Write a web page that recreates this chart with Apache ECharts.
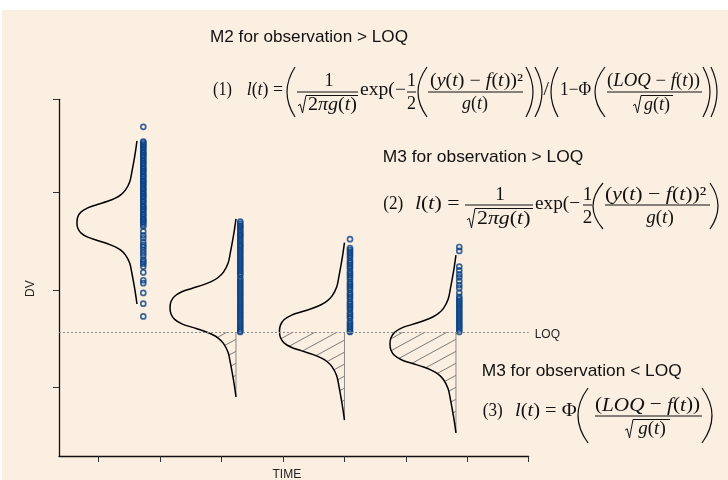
<!DOCTYPE html>
<html><head><meta charset="utf-8">
<script src="https://cdn.jsdelivr.net/npm/echarts@6/dist/echarts.min.js"></script>
<style>html,body{margin:0;padding:0;background:#fff;}#c{width:728px;height:480px;}</style>
</head><body><div id="c"></div>
<script>
// ---------------- data (axis units: TIME ticks and DV ticks) ----------------
const TIME_TICKS = [1, 2, 3, 4, 5, 6, 7, 8];
const DV_TICKS = [1, 2, 3, 3.952];
const X_RANGE = [0.354, 8];
const Y_RANGE = [0.301, 3.952];
const LOQ = 1.567;

// observation times and observed DV values
const OBS_TIMES = [1.726, 3.305, 5.091, 6.870];
const OBS1 = [3.67, 3.52, 3.51, 3.49, 3.48, 3.46, 3.45, 3.43, 3.41, 3.40, 3.38, 3.37, 3.35, 3.33, 3.32, 3.30,
  3.29, 3.27, 3.25, 3.24, 3.22, 3.21, 3.19, 3.17, 3.16, 3.14, 3.12, 3.11, 3.09, 3.08, 3.06, 3.04, 3.03, 3.01,
  2.99, 2.98, 2.96, 2.95, 2.93, 2.91, 2.90, 2.88, 2.86, 2.85, 2.83, 2.82, 2.80, 2.78, 2.77, 2.75, 2.73, 2.72,
  2.70, 2.69, 2.67, 2.65, 2.60, 2.56, 2.53, 2.49, 2.46, 2.44, 2.41, 2.38, 2.35, 2.31, 2.29, 2.27, 2.24,
  2.18, 2.10, 2.07, 1.97, 1.86, 1.73];
const OBS2 = [2.70, 2.68, 2.66, 2.65, 2.63, 2.61, 2.59, 2.57, 2.56, 2.54, 2.52, 2.50, 2.48, 2.46, 2.45, 2.43,
  2.41, 2.39, 2.37, 2.35, 2.33, 2.31, 2.29, 2.27, 2.25, 2.23, 2.21, 2.19, 2.17, 2.15, 2.12, 2.10, 2.08, 2.06,
  2.04, 2.02, 2.00, 1.98, 1.96, 1.94, 1.92, 1.90, 1.88, 1.86, 1.84, 1.82, 1.80, 1.78, 1.76, 1.74, 1.72, 1.70,
  1.68, 1.66, 1.64, 1.62, 1.60, 1.58, 1.57];
const OBS3 = [2.52, 2.43, 2.41, 2.39, 2.37, 2.35, 2.33, 2.30, 2.28, 2.26, 2.24, 2.22, 2.19, 2.17, 2.15, 2.13,
  2.11, 2.08, 2.06, 2.04, 2.02, 2.00, 1.97, 1.95, 1.93, 1.91, 1.88, 1.86, 1.84, 1.82, 1.80, 1.77, 1.75, 1.73,
  1.71, 1.68, 1.66, 1.64, 1.62, 1.60, 1.58, 1.57];
const OBS4 = [2.44, 2.40, 2.24, 2.20, 2.16, 2.13, 2.09, 2.05, 2.02, 1.97, 1.93, 1.91, 1.89, 1.87, 1.85, 1.83,
  1.81, 1.79, 1.77, 1.75, 1.73, 1.71, 1.69, 1.67, 1.65, 1.63, 1.61, 1.59, 1.57];

// predicted distributions: baseline time, centre DV, width (TIME units), half height (DV units)
const DIST_TIME = [1.623, 3.235, 5.001, 6.816];
const DIST_CENTER = [2.691, 1.818, 1.577, 1.448];
const DIST_WIDTH = [0.977, 1.074, 1.058, 1.074];
const DIST_HALF = [0.834, 0.911, 0.908, 0.910];
// density profile: relative offset along DV, relative depth
const PROFILE_U = [-1, -0.87, -0.76, -0.62, -0.50, -0.40, -0.34, -0.30, -0.26, -0.22, -0.18, -0.13, -0.07, 0,
  0.07, 0.13, 0.18, 0.22, 0.26, 0.30, 0.34, 0.40, 0.50, 0.62, 0.76, 0.87, 1];
const PROFILE_D = [0, 0.025, 0.05, 0.085, 0.12, 0.19, 0.27, 0.36, 0.49, 0.66, 0.82, 0.93, 0.985, 1,
  0.985, 0.93, 0.82, 0.66, 0.49, 0.36, 0.27, 0.19, 0.12, 0.085, 0.05, 0.025, 0];

// ---------------- styling ----------------
const INK = '#111';
const SERIF = '"Liberation Serif","Times New Roman",serif';
const SANS = '"Liberation Sans",Arial,Helvetica,sans-serif';
const BG = '#FBEFE1';
const PT = '#0A4286';

function makeHatch() {
  const c = document.createElement('canvas');
  c.width = 22; c.height = 12;
  const g = c.getContext('2d');
  g.strokeStyle = '#666'; g.lineWidth = 0.85;
  for (let k = -1; k <= 1; k++) {
    g.beginPath(); g.moveTo(-22, 24 + 12 * k); g.lineTo(44, -12 + 12 * k); g.stroke();
  }
  return c;
}
const HATCH = makeHatch();

function measure(style) {
  try { const t = new echarts.graphic.Text({ style: Object.assign({}, style) }); return t.getBoundingRect().width; }
  catch (e) { return 0; }
}
function richStyle(text, size, font) {
  return { text, fontSize: size, fontFamily: font, fill: INK, align: 'left', verticalAlign: 'middle',
    rich: { i: { fontStyle: 'italic', fontSize: size, fontFamily: font, fill: INK } } };
}
function fitText(text, x1, x2, y, size, font) {
  const style = richStyle(text, size, font || SERIF);
  const w = measure(style);
  let s = w > 0 ? (x2 - x1) / w : 1;
  s = Math.max(0.9, Math.min(1.15, s));
  return { type: 'text', x: x1, y, scaleX: s, silent: true, style };
}
function cText(text, cx, y, size) {
  const st = richStyle(text, size, SERIF); st.align = 'center';
  return { type: 'text', x: cx, y, silent: true, style: st };
}
function bar(x1, x2, y) {
  return { type: 'line', silent: true, shape: { x1, y1: y, x2, y2: y }, style: { stroke: INK, lineWidth: 1 } };
}
function radical(x1, x2, yTop, yBot) {
  const h = yBot - yTop;
  return { type: 'polyline', silent: true, shape: { points: [[x1, yTop + 0.58 * h], [x1 + 2.2, yTop + 0.5 * h], [x1 + 4.5, yBot], [x1 + 8, yTop], [x2, yTop]] },
    style: { stroke: INK, lineWidth: 1, fill: null } };
}
function paren(xa, xb, yt, yb, open) {
  const shape = open ? { x1: xb, y1: yt, x2: xb, y2: yb, cpx1: 2 * xa - xb, cpy1: (yt + yb) / 2 }
                     : { x1: xa, y1: yt, x2: xa, y2: yb, cpx1: 2 * xb - xa, cpy1: (yt + yb) / 2 };
  return { type: 'bezierCurve', silent: true, shape, style: { stroke: INK, lineWidth: 1.2, fill: null } };
}

const G = [];
// background white margin
G.push({ type: 'rect', silent: true, shape: { x: 0, y: 0, width: 728, height: 10 }, style: { fill: '#fff' } });
G.push({ type: 'rect', silent: true, shape: { x: 0, y: 0, width: 2, height: 480 }, style: { fill: '#fff' } });
// headings
G.push(fitText('M2 for observation > LOQ', 210, 408, 37.5, 17, SANS));
G.push(fitText('M3 for observation > LOQ', 382.7, 583.3, 157.5, 17, SANS));
G.push(fitText('M3 for observation < LOQ', 481.7, 681.7, 371, 17, SANS));

// formula (1)
(function () {
  const fs = 18, m = 90, b = 92, nu = 81, de = 104, t = 67, bt = 117;
  G.push(fitText('(1)', 213, 232, m, fs));
  G.push(fitText('{i|l}({i|t}) =', 246.7, 283, m, fs));
  G.push(paren(287, 295, t, bt, true));
  G.push(cText('1', 329, nu, fs)); G.push(bar(297, 358, b));
  G.push(radical(298, 358, 95.5, 113)); G.push(fitText('2{i|π}{i|g}({i|t})', 308, 357, de + 1, fs));
  G.push(fitText('exp(−', 360, 406, m, fs));
  G.push(cText('1', 411.5, nu, fs)); G.push(bar(407, 416, b)); G.push(cText('2', 411.5, de, fs));
  G.push(paren(418, 427, t, bt, true));
  G.push(fitText('({i|y}({i|t}) − {i|f}({i|t}))²', 430, 523, nu, fs)); G.push(bar(428, 523, b));
  G.push(cText('{i|g}({i|t})', 475, de, fs));
  G.push(paren(526, 533, t, bt, false)); G.push(paren(535, 542, t, bt, false));
  G.push(fitText('/', 543.5, 549, m, fs));
  G.push(paren(551, 558, t, bt, true));
  G.push(fitText('1−Φ', 560, 591, m, fs));
  G.push(paren(595, 605, t, bt, true));
  G.push(fitText('({i|LOQ} − {i|f}({i|t}))', 607, 700, nu, fs)); G.push(bar(607, 702, b));
  G.push(radical(633, 673, 95.5, 113)); G.push(cText('{i|g}({i|t})', 657, de + 1, fs));
  G.push(paren(703, 710, t, bt, false)); G.push(paren(711, 717, t, bt, false));
})();
// formula (2)
(function () {
  const fs = 19, m = 204, b = 205, nu = 195, de = 218, t = 183, bt = 229;
  G.push(fitText('(2)', 383.3, 403.3, m, fs));
  G.push(fitText('{i|l}({i|t}) =', 415, 460, m, fs));
  G.push(cText('1', 500, nu, fs)); G.push(bar(465, 533, b));
  G.push(radical(467, 533, 208.5, 228)); G.push(fitText('2{i|π}{i|g}({i|t})', 477, 532, de + 1, fs));
  G.push(fitText('exp(−', 535, 580, m, fs));
  G.push(cText('1', 587.5, nu, fs)); G.push(bar(583, 592, b)); G.push(cText('2', 587.5, de, fs));
  G.push(paren(593, 603, t, bt, true));
  G.push(fitText('({i|y}({i|t}) − {i|f}({i|t}))²', 605, 708, nu, fs)); G.push(bar(605, 710, b));
  G.push(cText('{i|g}({i|t})', 660, de, fs));
  G.push(paren(710, 718, t, bt, false));
})();
// formula (3)
(function () {
  const fs = 19, m = 411, b = 416, nu = 405.5, de = 428, t = 388, bt = 443;
  G.push(fitText('(3)', 482.7, 502, m, fs));
  G.push(fitText('{i|l}({i|t}) = Φ', 515, 576.7, m, fs));
  G.push(paren(578, 588, t, bt, true));
  G.push(fitText('({i|LOQ} − {i|f}({i|t}))', 595, 700, nu, fs)); G.push(bar(595, 702, b));
  G.push(radical(625, 670, 419.5, 438)); G.push(cText('{i|g}({i|t})', 652, de + 1, fs));
  G.push(paren(702, 712, t, bt, false));
})();

const OBS = [OBS1, OBS2, OBS3, OBS4];
const scatterSeries = OBS.map((arr, i) => ({
  type: 'scatter', symbol: 'circle', symbolSize: 5, silent: true, z: 4,
  itemStyle: { color: 'rgba(0,0,0,0)', borderColor: PT, borderWidth: 1.7 },
  data: arr.map(v => [OBS_TIMES[i], v])
}));
scatterSeries[0].markLine = {
  silent: true, symbol: 'none', animation: false,
  lineStyle: { color: '#8c8c8c', type: [2, 2], width: 1 },
  label: { show: true, position: 'end', formatter: 'LOQ', distance: 6, color: '#222', fontSize: 12, fontFamily: SANS, offset: [0, 3] },
  data: [{ yAxis: LOQ }]
};

const option = {
  backgroundColor: BG,
  animation: false,
  grid: { left: 59, right: 199.3, top: 99.3, bottom: 24, containLabel: false, outerBoundsMode: 'none' },
  xAxis: {
    type: 'value', min: X_RANGE[0], max: X_RANGE[1],
    axisLine: { show: true, onZero: false, lineStyle: { color: '#111', width: 1.3 } },
    axisTick: { show: true, customValues: TIME_TICKS, length: 6, lineStyle: { color: '#333', width: 1 } },
    axisLabel: { show: false }, splitLine: { show: false },
    name: 'TIME', nameLocation: 'middle', nameGap: 13,
    nameTextStyle: { color: '#222', fontSize: 12, fontFamily: SANS, padding: [0, 14, 0, 0] }
  },
  yAxis: {
    type: 'value', min: Y_RANGE[0], max: Y_RANGE[1],
    axisLine: { show: true, onZero: false, lineStyle: { color: '#111', width: 1.3 } },
    axisTick: { show: true, customValues: DV_TICKS, length: 6, lineStyle: { color: '#333', width: 1 } },
    axisLabel: { show: false }, splitLine: { show: false },
    name: 'DV', nameLocation: 'middle', nameRotate: 90, nameGap: 22,
    nameTextStyle: { color: '#222', fontSize: 12, fontFamily: SANS, padding: [0, 22, 0, 0] }
  },
  graphic: { elements: G },
  series: [{
    type: 'custom', coordinateSystem: 'cartesian2d', silent: true, z: 2,
    data: DIST_TIME.map((t, i) => [t, DIST_CENTER[i], DIST_WIDTH[i], DIST_HALF[i]]),
    encode: { x: 0, y: 1 },
    renderItem: function (params, api) {
      const t = api.value(0), c = api.value(1), w = api.value(2), h = api.value(3);
      const pts = PROFILE_U.map((u, k) => api.coord([t - PROFILE_D[k] * w, c + u * h]));
      const cs = params.coordSys;
      const loqY = api.coord([t, LOQ])[1];
      const bx = api.coord([t, c])[0];
      const botY = api.coord([t, c - h])[1];
      const children = [];
      if (botY > loqY) {
        children.push({ type: 'polygon', shape: { points: pts, smooth: 0.35 },
          style: { fill: { image: HATCH, repeat: 'repeat' }, stroke: null },
          clipPath: { type: 'rect', shape: { x: cs.x, y: loqY, width: bx - cs.x, height: cs.y + cs.height - loqY } } });
        children.push({ type: 'line', shape: { x1: bx, y1: loqY, x2: bx, y2: botY }, style: { stroke: '#8a8a8a', lineWidth: 1 } });
      }
      children.push({ type: 'polyline', shape: { points: pts, smooth: 0.35 }, style: { stroke: '#000', lineWidth: 1.5, fill: null } });
      return { type: 'group', children };
    }
  }].concat(scatterSeries)
};
const chart = echarts.init(document.getElementById('c'), null, { renderer: 'canvas' });
chart.setOption(option);
</script></body></html>
